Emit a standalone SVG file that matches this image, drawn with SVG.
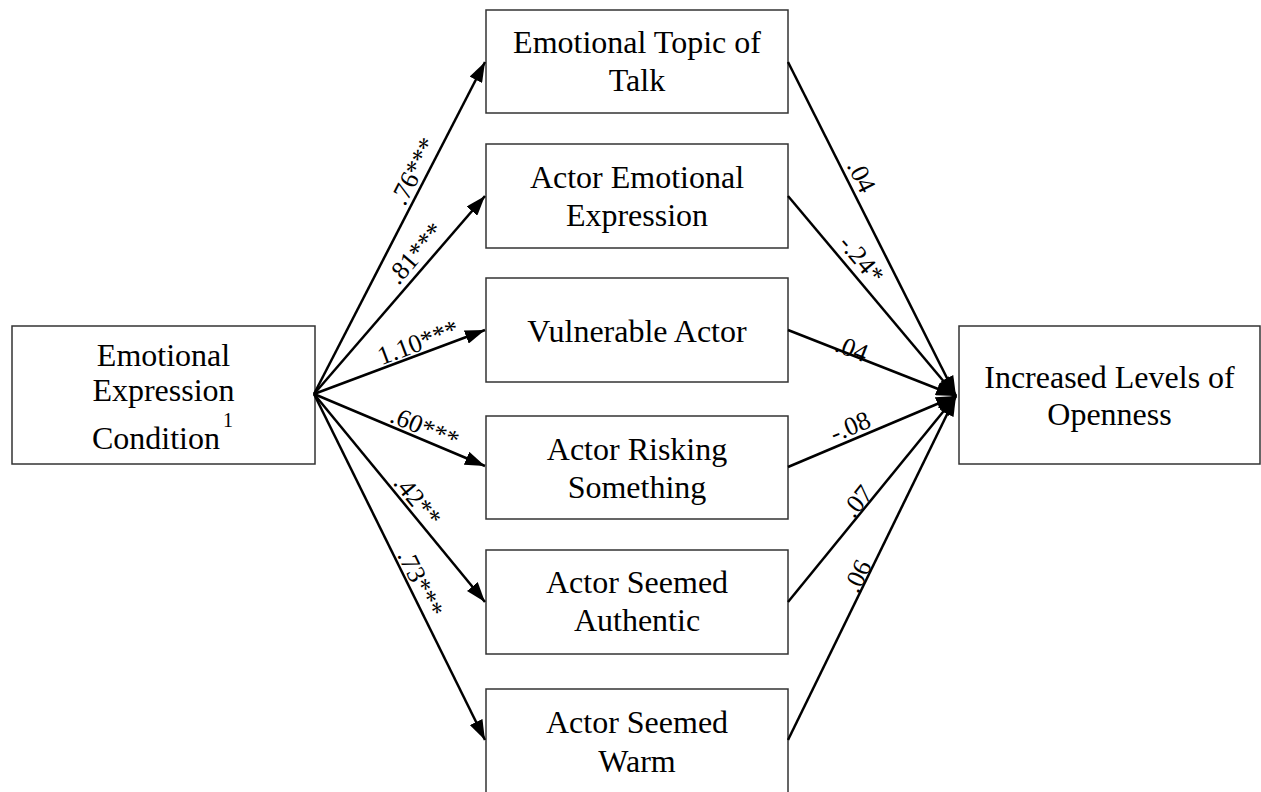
<svg xmlns="http://www.w3.org/2000/svg" width="1261" height="792" viewBox="0 0 1261 792">
  <style>
    .box { fill: #ffffff; stroke: #333333; stroke-width: 1.5; }
    .txt { font-family: "Liberation Serif", "Times New Roman", serif; font-size: 32px; fill: #000000; text-anchor: middle; }
    .sup { font-size: 20px; }
    .edge { fill: none; stroke: #000000; stroke-width: 2.5; marker-end: url(#arrow); }
    .lbl { font-family: "Liberation Serif", "Times New Roman", serif; font-size: 26px; fill: #000000; text-anchor: middle; }
  </style>
  <defs>
    <marker id="arrow" markerUnits="userSpaceOnUse" viewBox="0 0 20 14" refX="20" refY="7" markerWidth="20" markerHeight="14" orient="auto">
      <path d="M0,0 L20,7 L0,14 z" fill="#000000"/>
    </marker>
  </defs>
  <rect width="1261" height="792" fill="#ffffff"/>

  <!-- predictor -->
  <g id="node-condition">
    <rect class="box" x="12" y="326" width="303" height="138"/>
    <text class="txt" x="163.5" y="366">Emotional</text>
    <text class="txt" x="163.5" y="401">Expression</text>
    <text class="txt" x="162.5" y="449">Condition<tspan class="sup" dx="3" dy="-22">1</tspan></text>
  </g>

  <!-- mediators -->
  <g id="node-topic">
    <rect class="box" x="486" y="10" width="302" height="103"/>
    <text class="txt" x="637" y="53">Emotional Topic of</text>
    <text class="txt" x="637" y="91">Talk</text>
  </g>
  <g id="node-expression">
    <rect class="box" x="486" y="144" width="302" height="104"/>
    <text class="txt" x="637" y="188">Actor Emotional</text>
    <text class="txt" x="637" y="226">Expression</text>
  </g>
  <g id="node-vulnerable">
    <rect class="box" x="486" y="278" width="302" height="104"/>
    <text class="txt" x="637" y="342">Vulnerable Actor</text>
  </g>
  <g id="node-risking">
    <rect class="box" x="486" y="416" width="302" height="103"/>
    <text class="txt" x="637" y="460">Actor Risking</text>
    <text class="txt" x="637" y="498">Something</text>
  </g>
  <g id="node-authentic">
    <rect class="box" x="486" y="550" width="302" height="104"/>
    <text class="txt" x="637" y="593">Actor Seemed</text>
    <text class="txt" x="637" y="631">Authentic</text>
  </g>
  <g id="node-warm">
    <rect class="box" x="486" y="689" width="302" height="106"/>
    <text class="txt" x="637" y="733">Actor Seemed</text>
    <text class="txt" x="637" y="772">Warm</text>
  </g>

  <!-- outcome -->
  <g id="node-openness">
    <rect class="box" x="959" y="326" width="301" height="138"/>
    <text class="txt" x="1109.5" y="388">Increased Levels of</text>
    <text class="txt" x="1109.5" y="425">Openness</text>
  </g>

  <!-- paths -->
  <g id="connectors">
    <path class="edge" d="M314,394 L485,62"/>
    <path class="edge" d="M314,394 L485,196"/>
    <path class="edge" d="M314,394 L485,330"/>
    <path class="edge" d="M314,394 L485,466"/>
    <path class="edge" d="M314,394 L485,602"/>
    <path class="edge" d="M314,394 L485,740"/>

    <path class="edge" d="M788,62 L956,396"/>
    <path class="edge" d="M788,196 L956,396"/>
    <path class="edge" d="M788,330 L956,396"/>
    <path class="edge" d="M788,467 L956,396"/>
    <path class="edge" d="M788,602 L956,396"/>
    <path class="edge" d="M788,740 L956,396"/>

    <!-- path coefficients -->
    <text class="lbl" dy=".35em" transform="translate(413,171) rotate(-62.7)">.76***</text>
    <text class="lbl" dy=".35em" transform="translate(415,253) rotate(-49.2)">.81***</text>
    <text class="lbl" dy=".35em" transform="translate(418,342) rotate(-20.5)">1.10***</text>
    <text class="lbl" dy=".35em" transform="translate(425,427) rotate(22.8)">.60***</text>
    <text class="lbl" dy=".35em" transform="translate(418,500) rotate(50.6)">.42**</text>
    <text class="lbl" dy=".35em" transform="translate(421,583) rotate(63.7)">.73***</text>

    <text class="lbl" dy=".35em" transform="translate(862,176) rotate(63.3)">.04</text>
    <text class="lbl" dy=".35em" transform="translate(862,259) rotate(50.0)">-.24*</text>
    <text class="lbl" dy=".35em" transform="translate(852,348) rotate(21.4)">.04</text>
    <text class="lbl" dy=".35em" transform="translate(850,426) rotate(-22.9)">-.08</text>
    <text class="lbl" dy=".35em" transform="translate(857,501) rotate(-50.8)">.07</text>
    <text class="lbl" dy=".35em" transform="translate(857,576) rotate(-64.0)">.06</text>
  </g>
</svg>
